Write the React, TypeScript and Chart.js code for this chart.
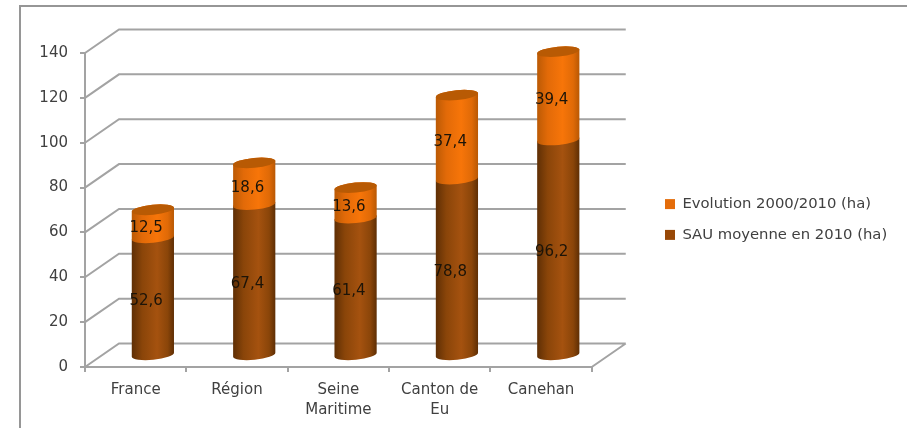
import { useEffect, useRef } from "react";
import { Chart, registerables } from "chart.js";

Chart.register(...registerables);

const categories = ["France", "Région", ["Seine", "Maritime"], ["Canton de", "Eu"], "Canehan"];
const sauMoyenne = [52.6, 67.4, 61.4, 78.8, 96.2];
const evolution = [12.5, 18.6, 13.6, 37.4, 39.4];

const FONT = "'DejaVu Sans', sans-serif";
const AXIS_GREY = "#a3a3a3";
const TEXT_GREY = "#404040";
const DEPTH_X = 34;
const DEPTH_Y = -23.5;
const CYL_RX = 21.2;
const CYL_RY = 5;
const CYL_TILT = -0.095;

const shades = [
  { left: "#5f2f05", soft: "#8a4509", mid: "#a5520f", edge: "#8a4509", right: "#5e2e04", cap: "#a5520f" },
  { left: "#bb5a05", soft: "#e26a08", mid: "#f77509", edge: "#e06a07", right: "#b85804", cap: "#b85a04" },
];

// Pseudo-3D walls: diagonal side lines and back-wall rules at each y tick.
const wallsPlugin = {
  id: "walls",
  beforeDatasetsDraw(chart: any) {
    const { ctx, scales, chartArea } = chart;
    const { left, right, bottom } = chartArea;
    ctx.save();
    ctx.strokeStyle = AXIS_GREY;
    ctx.lineWidth = 2;
    ctx.beginPath();
    for (const tick of scales.y.ticks) {
      const y = scales.y.getPixelForValue(tick.value);
      ctx.moveTo(left, y);
      ctx.lineTo(left + DEPTH_X, y + DEPTH_Y);
      ctx.lineTo(right + DEPTH_X, y + DEPTH_Y);
    }
    ctx.moveTo(right, bottom);
    ctx.lineTo(right + DEPTH_X, bottom + DEPTH_Y);
    ctx.stroke();
    ctx.restore();
  },
  // Only the left and top sides of the outer frame fall inside the page.
  beforeDraw(chart: any) {
    const { ctx, width, height } = chart;
    ctx.save();
    ctx.strokeStyle = "#969696";
    ctx.lineWidth = 2;
    ctx.beginPath();
    ctx.moveTo(20, height);
    ctx.lineTo(20, 6);
    ctx.lineTo(width, 6);
    ctx.stroke();
    ctx.restore();
  },
};

// Bars become tilted cylinders, drawn from the geometry of the bar elements.
const cylinderPlugin = {
  id: "cylinders",
  beforeDatasetDraw() {
    return false;
  },
  afterLayout(chart: any) {
    const legend = chart.legend;
    legend.left = 649;
    legend.right = 907;
    legend.top -= 21;
    legend.bottom -= 21;
  },
  afterDatasetsDraw(chart: any) {
    const { ctx } = chart;
    const dx = DEPTH_X / 2 + 0.2;
    const dy = DEPTH_Y / 2 + 0.5;
    chart.data.datasets.forEach((dataset: any, di: number) => {
      const meta = chart.getDatasetMeta(di);
      const shade = shades[di];
      meta.data.forEach((bar: any) => {
        const cx = bar.x + dx;
        const top = bar.y + dy;
        const base = bar.base + dy;
        const grad = ctx.createLinearGradient(cx - CYL_RX, 0, cx + CYL_RX, 0);
        grad.addColorStop(0, shade.left);
        grad.addColorStop(0.25, shade.soft);
        grad.addColorStop(0.6, shade.mid);
        grad.addColorStop(0.85, shade.edge);
        grad.addColorStop(1, shade.right);
        ctx.save();
        ctx.fillStyle = grad;
        ctx.beginPath();
        ctx.ellipse(cx, top, CYL_RX, CYL_RY, CYL_TILT, Math.PI, 2 * Math.PI);
        ctx.ellipse(cx, base, CYL_RX, CYL_RY, CYL_TILT, 0, Math.PI);
        ctx.closePath();
        ctx.fill();
        if (di === chart.data.datasets.length - 1) {
          ctx.fillStyle = shade.cap;
          ctx.beginPath();
          ctx.ellipse(cx, top, CYL_RX, CYL_RY, CYL_TILT, 0, 2 * Math.PI);
          ctx.fill();
        }
        ctx.restore();
      });
    });
    // Value labels sit left of the cylinder axis, on the front plane.
    ctx.save();
    ctx.font = `15px ${FONT}`;
    ctx.fillStyle = "#1c1408";
    ctx.textAlign = "center";
    ctx.textBaseline = "middle";
    chart.data.datasets.forEach((dataset: any, di: number) => {
      chart.getDatasetMeta(di).data.forEach((bar: any, i: number) => {
        const text = String(dataset.data[i].toFixed(1)).replace(".", ",");
        ctx.fillText(text, bar.x + 10.5, (bar.y + bar.base) / 2 - 6.5);
      });
    });
    ctx.restore();
  },
};

export default function App() {
  const ref = useRef<HTMLCanvasElement>(null);

  useEffect(() => {
    const chart = new Chart(ref.current!, {
      type: "bar",
      data: {
        labels: categories as any,
        datasets: [
          { label: "SAU moyenne en 2010 (ha)", data: sauMoyenne, backgroundColor: "#984807", barThickness: 42 },
          { label: "Evolution 2000/2010 (ha)", data: evolution, backgroundColor: "#e46c0a", barThickness: 42 },
        ],
      },
      options: {
        responsive: false,
        animation: false,
        layout: { padding: { top: 53, right: 118, left: 0, bottom: 0 } },
        scales: {
          x: {
            stacked: true,
            afterFit: (s: any) => { s.height = 61; },
            grid: { drawOnChartArea: false, color: AXIS_GREY, tickLength: 5, lineWidth: 2 },
            border: { color: AXIS_GREY, width: 2 },
            ticks: { color: TEXT_GREY, font: { family: FONT, size: 15, lineHeight: 1.35 }, padding: 8, maxRotation: 0 },
          },
          y: {
            stacked: true,
            min: 0,
            max: 140,
            afterFit: (s: any) => { s.width = 85; },
            grid: { drawOnChartArea: false, color: AXIS_GREY, tickLength: 5, lineWidth: 2 },
            border: { color: AXIS_GREY, width: 2 },
            ticks: { stepSize: 20, color: TEXT_GREY, font: { family: FONT, size: 15 }, padding: 12 },
          },
        },
        plugins: {
          tooltip: { enabled: false },
          legend: {
            position: "right",
            reverse: true,
            labels: { boxWidth: 10, boxHeight: 10, color: TEXT_GREY, font: { family: FONT, size: 14.8 }, padding: 16 },
          },
        },
      },
      plugins: [wallsPlugin, cylinderPlugin],
    });
    return () => chart.destroy();
  }, []);

  return (
    <div style={{ position: "absolute", left: 0, top: 0, width: 907, height: 428, overflow: "hidden", background: "#fff" }}>
      <canvas ref={ref} width={907} height={428} style={{ display: "block" }} />
    </div>
  );
}
